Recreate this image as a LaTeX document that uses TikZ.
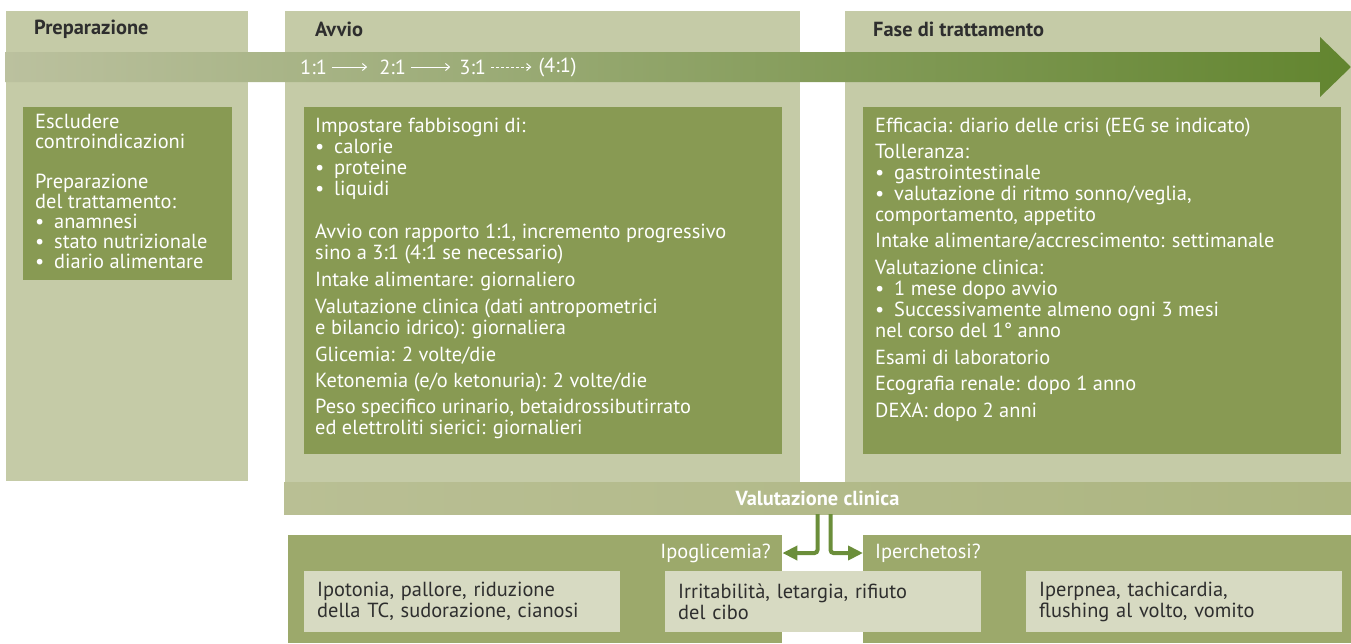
\documentclass[tikz,border=0pt]{standalone}
\usepackage{fontspec}
\setmainfont{PT Sans}
\usetikzlibrary{arrows.meta,positioning}

\definecolor{chiaro}{HTML}{C5CBA7}
\definecolor{scuro}{HTML}{889A53}
\definecolor{medio}{HTML}{9CA96B}
\definecolor{pallido}{HTML}{D7DAC2}
\definecolor{verde}{HTML}{62852F}
\definecolor{freccia}{HTML}{6B8E3A}
\definecolor{grigio}{HTML}{2E2E2E}
\definecolor{fasciaA}{HTML}{B9BF94}
\definecolor{fasciaB}{HTML}{73913F}
\definecolor{fasciaC}{HTML}{ACB580}
\newcommand{\corpo}{\fontsize{20.4}{21}\selectfont}
\newcommand{\pall}{\makebox[19pt][l]{•}}

\begin{document}
\begin{tikzpicture}[x=1pt,y=-1pt,
  colonna/.style={fill=chiaro,inner sep=0,anchor=north west},
  riquadro/.style={fill=scuro,inner sep=0,anchor=north west},
  testo/.style={text=white,align=left,inner sep=0,anchor=north west,font=\corpo},
  titolo/.style={anchor=west,inner sep=0,text=grigio,font=\corpo\bfseries},
  rapporto/.style={inner sep=0,text=white,font=\corpo},
  passo/.style={white,line width=1pt,-{Straight Barb[length=4pt,width=7pt]}},
  base/.style={fill=medio,inner sep=0,anchor=north west},
  etichetta/.style={inner sep=0,text=white,font=\corpo},
  sintomo/.style={fill=pallido,text=grigio,font=\corpo,align=left,anchor=north west,
    text width=290pt,inner xsep=13pt,inner ysep=0,minimum height=61pt},
  ramo/.style={freccia,line width=4pt,rounded corners=3pt,-{Triangle[length=15pt,width=14pt]}}]
\useasboundingbox (0,0) rectangle (1351,643);

%colonne
\node[colonna,minimum width=242,minimum height=470] (prep) at (6,11) {}; %colonna sinistra
\node[colonna,minimum width=515,minimum height=471] (avvio) at (285,11) {}; %colonna centrale
\node[colonna,minimum width=506,minimum height=471] (fase) at (845,11) {}; %colonna destra

%freccia delle fasi
\shade[left color=chiaro!95!black,right color=verde]
  (5,52) -- (1320,52) -- (1320,37) -- (1351,67) -- (1320,97) -- (1320,82) -- (5,82) -- cycle;

%titoli
\node[titolo] (tprep) at (34,29) {Preparazione};
\node[titolo] (tavvio) at (315,29) {Avvio};
\node[titolo] (tfase) at (873,29) {Fase di trattamento};

%rapporti
\node[rapporto,anchor=west] (r1) at (300,67) {1:1};
\node[rapporto,right=52pt of r1] (r2) {2:1};
\node[rapporto,right=53pt of r2] (r3) {3:1};
\node[rapporto,right=52pt of r3] (r4) {(4:1)};
\draw[passo] ([xshift=5]r1.east) -- ([xshift=-12]r2.west);
\draw[passo] ([xshift=5]r2.east) -- ([xshift=-9]r3.west);
\draw[passo,dash pattern=on 3pt off 2pt] ([xshift=5]r3.east) -- ([xshift=-7]r4.west);

%riquadri interni
\node[riquadro,minimum width=209,minimum height=173] (prepBox) at (23,107) {};
\node[riquadro,minimum width=478,minimum height=347] (avvioBox) at (304,107) {};
\node[riquadro,minimum width=478,minimum height=347] (faseBox) at (863,107) {};

\node[testo,font=\fontsize{20.4}{20}\selectfont] (prepTxt) at ([shift={(12,7)}]prepBox.north west)
  {Escludere\\controindicazioni\\[20pt]
   Preparazione\\del trattamento:\\
   \pall anamnesi\\\pall stato nutrizionale\\\pall diario alimentare};

\node[testo] (avvioTxt) at ([shift={(11,11)}]avvioBox.north west)
  {Impostare fabbisogni di:\\
   \pall calorie\\\pall proteine\\\pall liquidi\\[22pt]
   Avvio con rapporto 1:1, incremento progressivo\\
   sino a 3:1 (4:1 se necessario)\\[6pt]
   Intake alimentare: giornaliero\\[6pt]
   Valutazione clinica (dati antropometrici\\
   e bilancio idrico): giornaliera\\[6pt]
   Glicemia: 2 volte/die\\[5pt]
   Ketonemia (e/o ketonuria): 2 volte/die\\[5pt]
   Peso specifico urinario, betaidrossibutirrato\\
   ed elettroliti sierici: giornalieri};

\node[testo] (faseTxt) at ([shift={(12,11)}]faseBox.north west)
  {Efficacia: diario delle crisi (EEG se indicato)\\[5pt]
   Tolleranza:\\
   \pall gastrointestinale\\
   \pall valutazione di ritmo sonno/veglia,\\
   comportamento, appetito\\[5pt]
   Intake alimentare/accrescimento: settimanale\\[6pt]
   Valutazione clinica:\\
   \pall 1 mese dopo avvio\\
   \pall Successivamente almeno ogni 3 mesi\\
   nel corso del 1° anno\\[6pt]
   Esami di laboratorio\\[5pt]
   Ecografia renale: dopo 1 anno\\[6pt]
   DEXA: dopo 2 anni};

%fascia valutazione clinica
\node[left color=fasciaA,middle color=fasciaB,right color=fasciaC,
  minimum width=1067,minimum height=32,inner sep=0,text=white,font=\corpo\bfseries]
  (valut) at (817.5,498) {Valutazione clinica};

%riquadri in basso
\node[base,minimum width=494,minimum height=108] (ipoBox) at (288,535) {};
\node[base,minimum width=488,minimum height=108] (iperBox) at (863,535) {};
\node[etichetta,anchor=east] (ipoLab) at (771,553) {Ipoglicemia?};
\node[etichetta,anchor=west] (iperLab) at (875,553) {Iperchetosi?};

\node[sintomo] (sint1) at (304,571) {Ipotonia, pallore, riduzione\\della TC, sudorazione, cianosi};
\node[sintomo] (sint2) at (665,571) {Irritabilità, letargia, rifiuto\\del cibo};
\node[sintomo] (sint3) at (1026,571) {Iperpnea, tachicardia,\\flushing al volto, vomito};

%frecce
\draw[ramo] (valut.south) |- (ipoBox.east |- ipoLab.center);
\draw[ramo] ([xshift=13]valut.south) |- (iperBox.west |- iperLab.center);
\end{tikzpicture}
\end{document}
